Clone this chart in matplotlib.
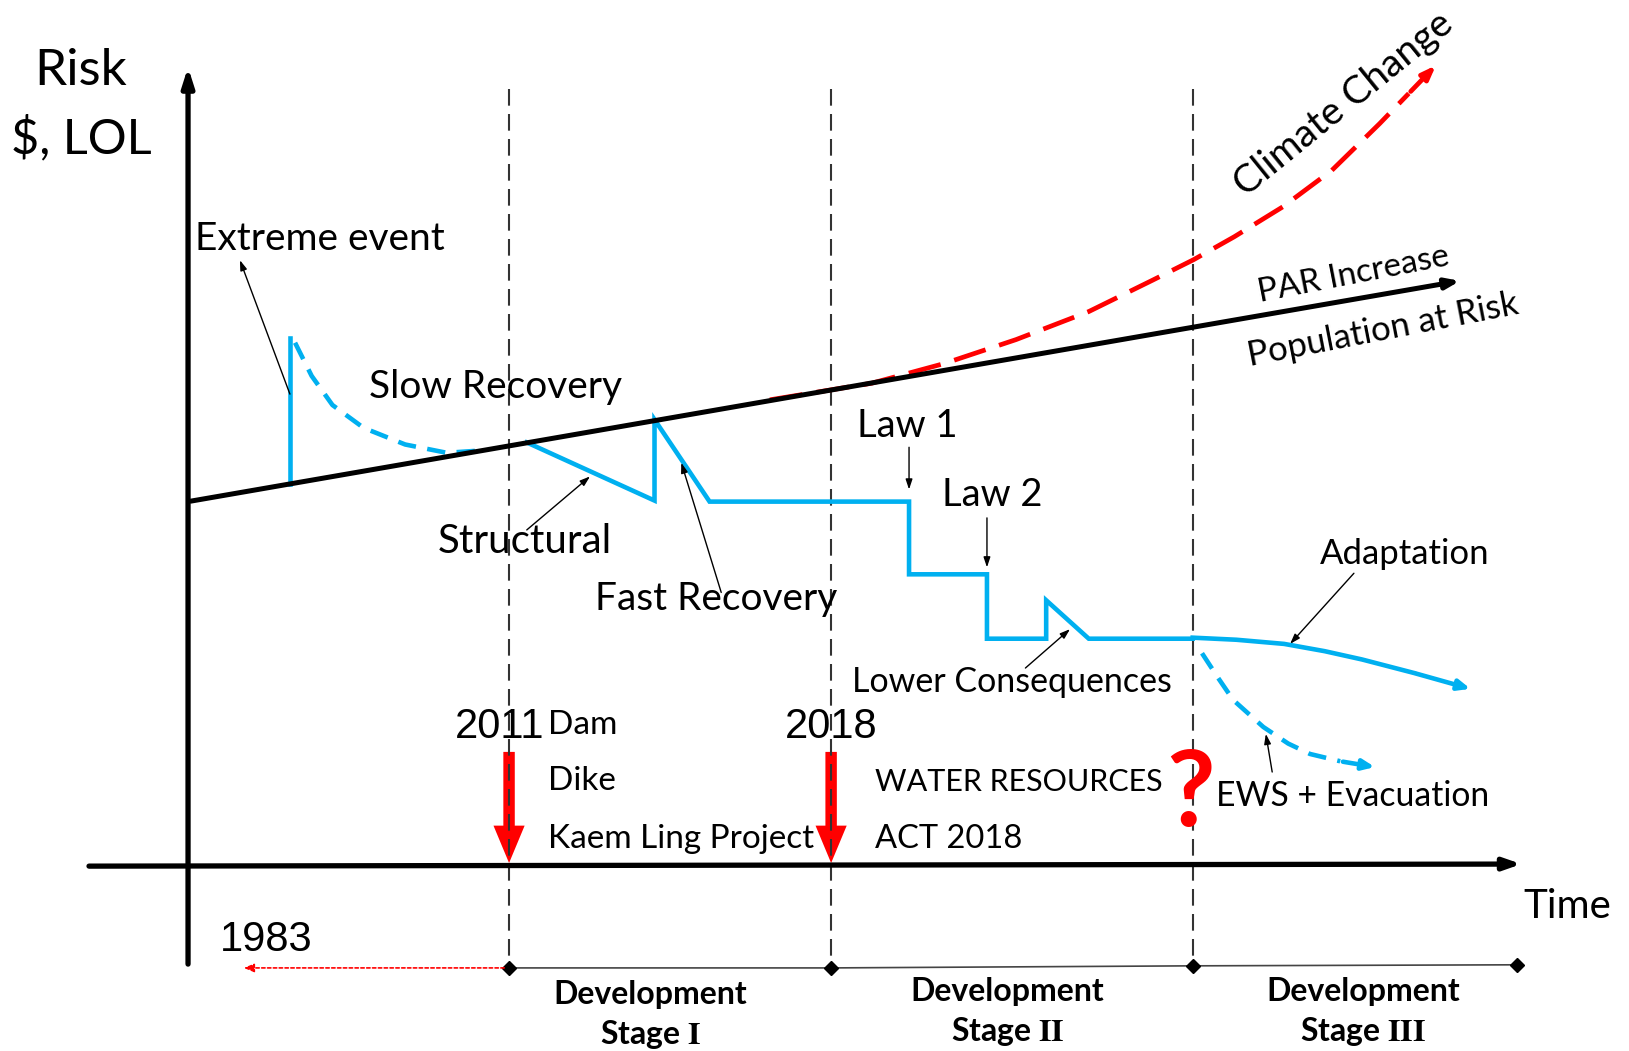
import numpy as np
import matplotlib.pyplot as plt
from matplotlib.patches import FancyArrow

plt.rcParams['font.family'] = ['Lato', 'DejaVu Sans']
plt.rcParams['mathtext.fontset'] = 'stix'

# ---- diagram data (reference drawing units, y grows downward) ----
par_x = [181, 1408]
par_y = [483, 270]

climate_x = [741, 790, 839, 909, 978, 1048, 1109, 1149, 1188, 1235, 1282, 1328, 1356, 1384]
climate_y = [385, 377, 369, 350, 327, 300, 270, 250, 228, 199, 164, 119, 90, 61]

event_x = [279, 279]
event_y = [466, 325]

slow_x = [284, 300, 320, 350, 390, 430, 460]
slow_y = [330, 362, 390, 412, 428, 436, 434]

risk_x = [507, 630, 630, 683, 875, 875, 950, 950, 1007, 1007, 1048, 1148]
risk_y = [426, 482, 404, 483, 483, 553, 553, 615, 615, 578, 615, 615]

adapt_x = [1148, 1190, 1236, 1275, 1311, 1361, 1418]
adapt_y = [614, 616, 620, 627, 635, 648, 664]

ews_x = [1157, 1172, 1187, 1216, 1240, 1261, 1290, 1326]
ews_y = [629, 652, 674, 700, 716, 726, 733, 739]

stage_x = [490, 800, 1148]
timeline_x = [490, 800, 1148, 1460]
timeline_y = [932, 932, 930, 929]
event_years = ['2011', '2018']
event_year_x = [481, 800]
stage_numerals = ['I', 'II', 'III']
stage_label_x = [626, 970, 1312]
stage_label_y = [958, 955, 955]

blue = '#00b0f0'
red = '#ff0000'

fig = plt.figure(figsize=(16.29, 10.51), dpi=100)
ax = fig.add_axes([0, 0, 1, 1])
ax.set_xlim(0, 1568)
ax.set_ylim(1012, 0)
ax.axis('off')

# axes
ax.annotate('', xy=(181, 62), xytext=(181, 931),
            arrowprops=dict(arrowstyle='-|>,head_length=1.1,head_width=0.35', lw=3.8, color='k'))
ax.annotate('', xy=(1467, 832), xytext=(83, 834),
            arrowprops=dict(arrowstyle='-|>,head_length=1.0,head_width=0.35', lw=3.8, color='k'))

# stage separators
for sx in stage_x:
    ax.plot([sx, sx], [86, 932], color='#333333', lw=1.5, ls=(0, (8, 4)))

# timeline
ax.plot(timeline_x, timeline_y, color='#444444', lw=1.2)
ax.plot(timeline_x, timeline_y, ls='none', marker='D', ms=7, color='k')
ax.annotate('', xy=(232, 932), xytext=(488, 932),
            arrowprops=dict(arrowstyle='-|>,head_length=0.6,head_width=0.25', lw=1.2,
                            color=red, ls=(0, (2, 1.5))))
ax.text(256, 905, '1983', fontsize=30, ha='center', va='center',
        family=['Liberation Sans Narrow', 'Liberation Sans'])

for lx, ly, num in zip(stage_label_x, stage_label_y, stage_numerals):
    ax.text(lx, ly, 'Development', fontsize=23, fontweight='bold', ha='center', va='center')
    ax.text(lx, ly + 38, 'Stage $\\mathbf{' + num + '}$', fontsize=23, fontweight='bold',
            ha='center', va='center')

# population at risk / climate change
ax.annotate('', xy=(par_x[1], par_y[1]), xytext=(par_x[0], par_y[0]),
            arrowprops=dict(arrowstyle='-|>,head_length=0.8,head_width=0.3', lw=3.6, color='k'))
ax.plot(climate_x[:-1], climate_y[:-1], color=red, lw=3.4, ls=(0, (7, 3)))
ax.annotate('', xy=(climate_x[-1], climate_y[-1]), xytext=(climate_x[-2], climate_y[-2]),
            arrowprops=dict(arrowstyle='-|>,head_length=0.8,head_width=0.3', lw=3.4, color=red))

# risk path
ax.plot(event_x, event_y, color=blue, lw=3.3)
ax.plot(slow_x, slow_y, color=blue, lw=3.3, ls=(0, (4, 2.5)))
ax.plot(risk_x, risk_y, color=blue, lw=3.3, solid_joinstyle='miter')
ax.plot(adapt_x[:-1], adapt_y[:-1], color=blue, lw=3.3)
ax.annotate('', xy=(adapt_x[-1], adapt_y[-1]), xytext=(adapt_x[-2], adapt_y[-2]),
            arrowprops=dict(arrowstyle='-|>,head_length=0.7,head_width=0.3', lw=3.3, color=blue))
ax.plot(ews_x[:-1], ews_y[:-1], color=blue, lw=3.3, ls=(0, (4, 2.5)))
ax.annotate('', xy=(ews_x[-1], ews_y[-1]), xytext=(ews_x[-2], ews_y[-2]),
            arrowprops=dict(arrowstyle='-|>,head_length=0.7,head_width=0.3', lw=3.3, color=blue))

# red policy arrows
for sx, yx, yr in zip(stage_x[:2], event_year_x, event_years):
    ax.add_patch(FancyArrow(sx, 724, 0, 107, width=11, head_width=30, head_length=36,
                            length_includes_head=True, color=red, lw=0))
    ax.text(yx, 700, yr, fontsize=30, ha='center', va='center',
            family=['Liberation Sans Narrow', 'Liberation Sans'])

# labels
fs = 28
ax.text(78, 68, 'Risk', fontsize=37, ha='center', va='center')
ax.text(78, 133, '$, LOL', fontsize=35, ha='center', va='center')
ax.text(1509, 873, 'Time', fontsize=29, ha='center', va='center')
ax.text(1293, 100, 'Climate Change', fontsize=28, ha='center', va='center', rotation=39)
ax.text(1303, 264, 'PAR Increase', fontsize=24, ha='center', va='center', rotation=11)
ax.text(1331, 318, 'Population at Risk', fontsize=25, ha='center', va='center', rotation=11)

ax.text(188, 230, 'Extreme event', fontsize=fs, ha='left', va='center')
ax.text(355, 373, 'Slow Recovery', fontsize=fs, ha='left', va='center')
ax.text(421, 521, 'Structural', fontsize=29, ha='left', va='center')
ax.text(573, 577, 'Fast Recovery', fontsize=fs, ha='left', va='center')
ax.text(825, 410, 'Law 1', fontsize=27.5, ha='left', va='center')
ax.text(907, 477, 'Law 2', fontsize=27.5, ha='left', va='center')
ax.text(820, 657, 'Lower Consequences', fontsize=24.5, ha='left', va='center')
ax.text(1270, 533, 'Adaptation', fontsize=25, ha='left', va='center')
ax.text(1170, 766, 'EWS + Evacuation', fontsize=24.3, ha='left', va='center')

ax.text(527, 698, 'Dam', fontsize=24, ha='left', va='center')
ax.text(527, 752, 'Dike', fontsize=24, ha='left', va='center')
ax.text(527, 808, 'Kaem Ling Project', fontsize=24, ha='left', va='center')
ax.text(842, 753, 'WATER RESOURCES', fontsize=22, ha='left', va='center')
ax.text(842, 808, 'ACT 2018', fontsize=23.5, ha='left', va='center')
ax.text(1146, 766, '?', fontsize=76, color=red, fontweight='bold', ha='center', va='center')

# pointer arrows
thin = dict(arrowstyle='-|>,head_length=0.6,head_width=0.2', lw=1, color='k')
pointers = [((230, 248), (280, 382)), ((570, 457), (505, 512)), ((655, 443), (695, 573)),
            ((875, 474), (875, 428)), ((950, 549), (950, 496)), ((1032, 604), (985, 645)),
            ((1240, 622), (1305, 550)), ((1218, 704), (1225, 746))]
for tip, tail in pointers:
    ax.annotate('', xy=tip, xytext=tail, arrowprops=thin)

fig.savefig('out.png', dpi=100)
